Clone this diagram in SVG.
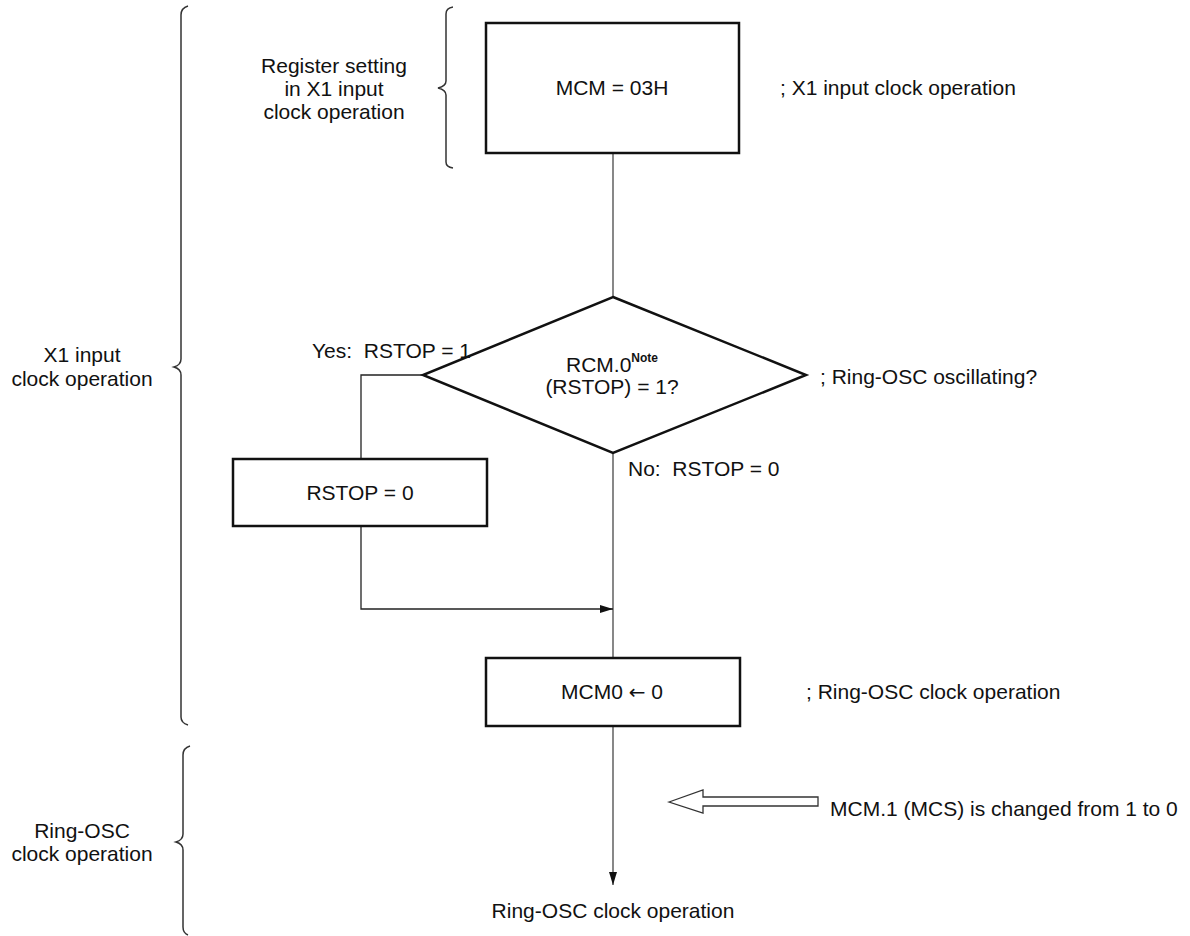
<svg xmlns="http://www.w3.org/2000/svg" width="1190" height="936" viewBox="0 0 1190 936">
<style>
text{font-family:"Liberation Sans",Arial,sans-serif;font-size:21px;fill:#111}
.c{text-anchor:middle}
.box{fill:#fff;stroke:#111;stroke-width:2.5}
.br{fill:none;stroke:#333;stroke-width:1.5}
.ln{fill:none;stroke:#222;stroke-width:1.3}
.vl{fill:none;stroke:#6a6a6a;stroke-width:1.6}
.arw{font-family:"DejaVu Sans",sans-serif;font-size:20px}
</style>
<defs>
<marker id="ah" markerWidth="14" markerHeight="10" refX="13" refY="5" orient="auto" markerUnits="userSpaceOnUse">
<path d="M0,1 L13,5 L0,9 Z" fill="#111"/>
</marker>
</defs>
<rect width="1190" height="936" fill="#fff"/>
<g id="braces">
<path class="br" d="M188,6 Q181,8 181,15 L181,359 Q181,365 174,367 Q181,369 181,375 L181,717 Q181,723 188,725"/>
<path class="br" d="M190,746 Q183,748 183,755 L183,834 Q183,840 176,842 Q183,844 183,850 L183,927 Q183,933 188,935"/>
<path class="br" d="M453,7 Q446,8 446,14 L446,81 Q446,86 438,88 Q446,90 446,95 L446,162 Q446,167 453,168"/>
</g>
<g id="connectors">
<path class="vl" d="M613,153 L613,297"/>
<path class="vl" d="M613,453 L613,658"/>
<path class="vl" d="M613,726 L613,885" marker-end="url(#ah)"/>
<path class="ln" d="M424,375 L361,375 L361,459"/>
<path class="ln" d="M361,526 L361,609 L613,609" marker-end="url(#ah)"/>
<polygon points="669,802 703,790 703,797 818,797 818,806 703,806 703,813" fill="#fff" stroke="#333" stroke-width="1.3"/>
</g>
<g id="label-register">
<text class="c" x="334" y="73">Register setting</text>
<text class="c" x="334" y="96">in X1 input</text>
<text class="c" x="334" y="119">clock operation</text>
</g>
<g id="label-x1">
<text class="c" x="82" y="362">X1 input</text>
<text class="c" x="82" y="386">clock operation</text>
</g>
<g id="label-ring">
<text class="c" x="82" y="838">Ring-OSC</text>
<text class="c" x="82" y="861">clock operation</text>
</g>
<g id="node-mcm03h">
<rect class="box" x="486" y="23" width="253" height="130"/>
<text class="c" x="612" y="95">MCM = 03H</text>
</g>
<text x="780" y="95">; X1 input clock operation</text>
<g id="node-decision">
<polygon class="box" points="613,297 806,375 613,453 423,375"/>
<text x="566" y="372">RCM.0<tspan font-size="12" font-weight="bold" dy="-10">Note</tspan></text>
<text class="c" x="612" y="394">(RSTOP) = 1?</text>
</g>
<text x="312" y="358" xml:space="preserve">Yes:  RSTOP = 1</text>
<text x="820" y="384">; Ring-OSC oscillating?</text>
<text x="628" y="476" xml:space="preserve">No:  RSTOP = 0</text>
<g id="node-rstop">
<rect class="box" x="233" y="459" width="254" height="67"/>
<text class="c" x="360" y="500">RSTOP = 0</text>
</g>
<g id="node-mcm0">
<rect class="box" x="486" y="658" width="254" height="68"/>
<text class="c" x="612" y="699">MCM0 <tspan class="arw">←</tspan> 0</text>
</g>
<text x="806" y="699">; Ring-OSC clock operation</text>
<text x="830" y="816" font-size="21.4">MCM.1 (MCS) is changed from 1 to 0</text>
<text class="c" x="613" y="918">Ring-OSC clock operation</text>
</svg>
